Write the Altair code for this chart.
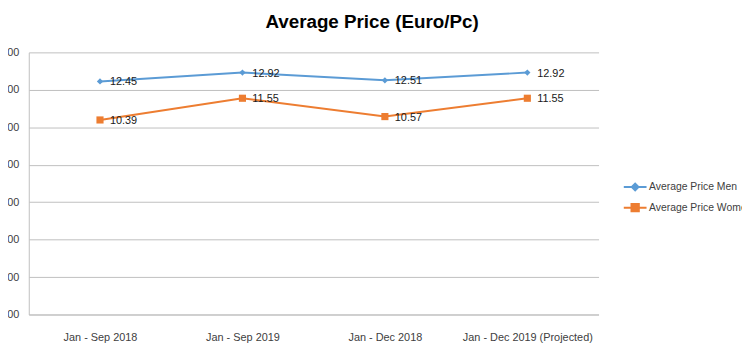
import altair as alt
import pandas as pd

periods = ["Jan - Sep 2018", "Jan - Sep 2019", "Jan - Dec 2018", "Jan - Dec 2019 (Projected)"]
men = [12.45, 12.92, 12.51, 12.92]
women = [10.39, 11.55, 10.57, 11.55]
series = ["Average Price Men", "Average Price Women"]
colors = ["#5B9BD5", "#ED7D31"]
y_ticks = [0, 2, 4, 6, 8, 10, 12, 14]

FONT = "Liberation Sans"
GRID = "#BFBFBF"
TXT = "#404040"

# legend symbols: short line with marker
path_men = "M-1.15,0H1.15M-0.34,0L0,-0.34L0.34,0L0,0.34Z"
path_women = "M-1.15,0H1.15M-0.37,-0.37H0.37V0.37H-0.37Z"

rows = []
for p, m, w in zip(periods, men, women):
    rows.append({"period": p, "series": series[0], "value": m})
    rows.append({"period": p, "series": series[1], "value": w})
df = pd.DataFrame(rows)

x = alt.X(
    "period:N",
    sort=periods,
    scale=alt.Scale(type="point", padding=0.5),
    axis=alt.Axis(
        title=None, labelAngle=0, ticks=False, domain=True, domainColor=GRID,
        domainWidth=1, labelPadding=17, labelFontSize=11, labelColor=TXT,
        labelFont=FONT, grid=False,
    ),
)
y = alt.Y(
    "value:Q",
    scale=alt.Scale(domain=[0, 14], nice=False, zero=True),
    axis=alt.Axis(
        title=None, values=y_ticks, format=".2f", ticks=False, grid=True,
        gridColor=GRID, domain=True, domainColor=GRID, labelPadding=10,
        labelFontSize=11, labelColor=TXT, labelFont=FONT,
    ),
)
color = alt.Color("series:N", scale=alt.Scale(domain=series, range=colors), legend=None)

base = alt.Chart(df).encode(x=x, y=y, color=color)

line = base.mark_line(strokeWidth=2)
pts_m = base.transform_filter(alt.datum.series == series[0]).mark_point(
    shape="diamond", filled=True, size=40, opacity=1
)
pts_w = base.transform_filter(alt.datum.series == series[1]).mark_point(
    shape="square", filled=True, size=52, opacity=1
)
labels = base.mark_text(
    align="left", baseline="middle", dx=10, dy=1, fontSize=11, font=FONT
).encode(text=alt.Text("value:Q", format=".2f"), color=alt.value("#1a1a1a"))

leg = alt.Legend(
    title=None, orient="none", legendX=602, legendY=125, symbolSize=400,
    symbolStrokeWidth=2, symbolOpacity=1, labelFontSize=10.5, labelFont=FONT,
    labelColor=TXT, padding=0, rowPadding=2, labelOffset=3, labelLimit=300,
)
legend_layer = (
    alt.Chart(df)
    .mark_point(opacity=0, strokeWidth=2)
    .encode(
        x=x,
        y=y,
        fill=alt.Fill("series:N", scale=alt.Scale(domain=series, range=colors), legend=leg),
        stroke=alt.Stroke("series:N", scale=alt.Scale(domain=series, range=colors), legend=leg),
        shape=alt.Shape("series:N", scale=alt.Scale(domain=series, range=[path_men, path_women]), legend=leg),
    )
)

chart = (
    alt.layer(legend_layer, line, pts_m, pts_w, labels)
    .properties(
        width=576,
        height=265,
        autosize=alt.AutoSizeParams(type="none"),
        padding={"left": 21, "top": 43, "right": 145, "bottom": 32},
        title=alt.TitleParams(
            "Average Price (Euro/Pc)", fontSize=19, fontWeight="bold", font=FONT,
            color="#000000", anchor="middle", dx=59, offset=15,
        ),
    )
    .configure_view(stroke=None)
)

chart.save("out.html", embed_options={"renderer": "svg", "actions": False})
